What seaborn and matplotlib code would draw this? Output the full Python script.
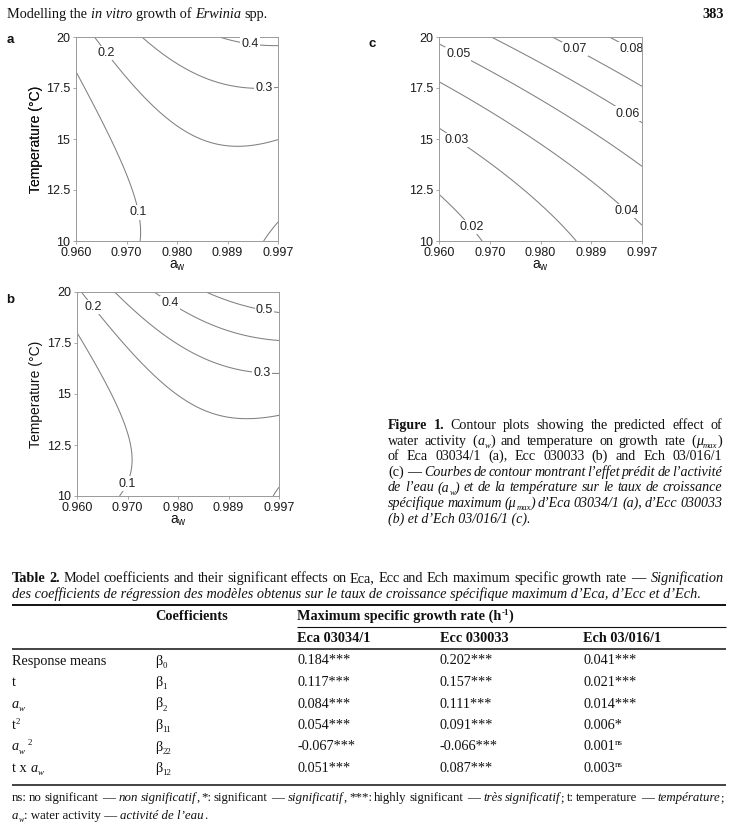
import re
import numpy as np
import pandas as pd
import seaborn as sns
import matplotlib
matplotlib.use("Agg")
import matplotlib.pyplot as plt
from matplotlib.transforms import IdentityTransform
from matplotlib.font_manager import FontProperties
from matplotlib.lines import Line2D

# ---------------- data (Table 2: coded response-surface coefficients) ----------------
# order: b0, b1 (t), b2 (aw), b11 (t^2), b22 (aw^2), b12 (t x aw)
term_labels = ["Response means", "t", "<i>a</i><sub><i>w</i></sub>", "t<sup>2</sup>",
               "<i>a</i><sub><i>w</i></sub><sup> 2</sup>", "t x <i>a</i><sub><i>w</i></sub>"]
coef_labels = ["β<sub>0</sub>", "β<sub>1</sub>", "β<sub>2</sub>",
               "β<sub>11</sub>", "β<sub>22</sub>", "β<sub>12</sub>"]
eca_coef = [0.184, 0.117, 0.084, 0.054, -0.067, 0.051]
ecc_coef = [0.202, 0.157, 0.111, 0.091, -0.066, 0.087]
ech_coef = [0.041, 0.021, 0.014, 0.006, 0.001, 0.003]
eca_sig = ["***", "***", "***", "***", "***", "***"]
ecc_sig = ["***", "***", "***", "***", "***", "***"]
ech_sig = ["***", "***", "***", "*", "ns", "ns"]
strain_labels = ["Eca 03034/1", "Ecc 030033", "Ech 03/016/1"]

aw_coded_ticks = [-1.0, -0.5, 0.0, 0.5, 1.0]
aw_tick_labels = ["0.960", "0.970", "0.980", "0.989", "0.997"]
temp_ticks = [10, 12.5, 15, 17.5, 20]
temp_tick_labels = ["10", "12.5", "15", "17.5", "20"]

levels_a = [0.1, 0.2, 0.3, 0.4]
levels_b = [0.1, 0.2, 0.3, 0.4, 0.5]
levels_c = [0.02, 0.03, 0.04, 0.05, 0.06, 0.07, 0.08]

# ---------------- layout ----------------
W, H, DPI = 731, 831, 100
SERIF = "Liberation Serif"
SANS = "Liberation Sans"
INK = "#111111"
LINE = "#808080"
FRAME = "#9a9a9a"

sns.set_theme(style="white", rc={"axes.edgecolor": FRAME, "axes.linewidth": 0.7})
plt.rcParams["font.family"] = [SANS, "DejaVu Sans"]

fig = plt.figure(figsize=(W / DPI, H / DPI), dpi=DPI, facecolor="white")
rend = fig.canvas.get_renderer()

TAG = re.compile(r"(</?(?:b|i|sub|sup)>)")


def parse(markup):
    st = {"b": False, "i": False, "sub": False, "sup": False}
    out = []
    for tok in TAG.split(markup):
        if not tok:
            continue
        m = re.fullmatch(r"<(/?)(b|i|sub|sup)>", tok)
        if m:
            st[m.group(2)] = (m.group(1) == "")
        else:
            sc = -1 if st["sub"] else (1 if st["sup"] else 0)
            out.append((tok, st["b"], st["i"], sc))
    return out


def fprop(bold, ital, sc, size, family):
    return FontProperties(family=family, weight="bold" if bold else "normal",
                          style="italic" if ital else "normal",
                          size=size * (0.62 if sc else 1.0))


def adv(s, fp):
    """advance width of s in pixels"""
    if not s:
        return 0.0
    return rend.get_text_width_height_descent(s, fp, ismath=False)[0]


def put(x, base, s, fp, sc, size, color):
    px = size * DPI / 72.0
    dy = 0.0
    if sc < 0:
        dy = 0.24 * px
    elif sc > 0:
        dy = -0.36 * px
    fig.text(x, H - (base + dy), s, fontproperties=fp, transform=IdentityTransform(),
             ha="left", va="baseline", color=color)


DASH_PAD = 1.6


def rich(x0, base, markup, size, width=None, family=SERIF, color=INK, ha="left"):
    pieces = [(p, fprop(b, it, sc, size, family), sc) for p, b, it, sc in parse(markup)]
    if width is None:
        total = sum(adv(p, fp) for p, fp, sc in pieces)
        x = x0 - total if ha == "right" else x0
        for p, fp, sc in pieces:
            lead = len(p) - len(p.lstrip(" "))
            core = p.strip(" ")
            if core:
                put(x + adv(" " * lead, fp), base, core, fp, sc, size, color)
            x += adv(p, fp)
        return total
    # justified setting: word by word
    words = [[]]
    for p, fp, sc in pieces:
        parts = p.split(" ")
        for k, q in enumerate(parts):
            if k > 0:
                words.append([])
            if q:
                words[-1].append((q, fp, sc))
    words = [w for w in words if w]

    def word_w(w):
        ww = sum(adv(q, fp) for q, fp, sc in w)
        if len(w) == 1 and w[0][0] == "—":
            ww += 2 * DASH_PAD
        return ww

    wws = [word_w(w) for w in words]
    n = len(words)
    gap = (width - sum(wws)) / max(n - 1, 1)
    x = x0
    for w, ww in zip(words, wws):
        xx = x + (DASH_PAD if (len(w) == 1 and w[0][0] == "—") else 0.0)
        for q, fp, sc in w:
            put(xx, base, q, fp, sc, size, color)
            xx += adv(q, fp)
        x += ww + gap
    return width


def rule(x0, x1, y, lw):
    fig.add_artist(Line2D([x0, x1], [H - y, H - y], transform=IdentityTransform(),
                          color=INK, lw=lw, solid_capstyle="butt"))


def surface(coefs):
    xg = np.linspace(-1, 1, 241)
    Tg = np.linspace(10, 20, 241)
    X, T = np.meshgrid(xg, Tg)
    t = (T - 15.0) / 5.0
    b0, b1, b2, b11, b22, b12 = coefs
    Z = b0 + b1 * t + b2 * X + b11 * t ** 2 + b22 * X ** 2 + b12 * t * X
    return X, T, Z


def panel(rect, coefs, levels, fmt, lab_pos, letter, letter_xy):
    l, t, r, b = rect
    ax = fig.add_axes([l / W, 1 - b / H, (r - l) / W, (b - t) / H])
    ax.set_xlim(-1, 1)
    ax.set_ylim(10, 20)
    X, T, Z = surface(coefs)
    cs = ax.contour(X, T, Z, levels=levels, colors=LINE, linewidths=0.75)
    txts = ax.clabel(cs, levels, fmt=fmt, manual=lab_pos, inline=False,
                     fontsize=9, colors="#222222")
    for tx in txts:
        tx.set_rotation(0)
        tx.set_bbox(dict(facecolor="white", edgecolor="none", pad=0.8))
    ax.set_xticks(aw_coded_ticks)
    ax.set_xticklabels(aw_tick_labels)
    ax.set_yticks(temp_ticks)
    ax.set_yticklabels(temp_tick_labels)
    ax.tick_params(direction="out", length=2.2, width=0.6, color=FRAME, pad=2.2,
                   labelsize=9, labelcolor="#1a1a1a", bottom=True, left=True)
    for s in ax.spines.values():
        s.set_color(FRAME)
        s.set_linewidth(0.7)
    ax.set_xlabel("a$_{\\mathregular{w}}$", fontsize=10, color=INK)
    ax.set_ylabel("Temperature (°C)", fontsize=10, color=INK)
    ax.xaxis.set_label_coords(0.5, -25.0 / (b - t))
    ax.xaxis.label.set_va("center")
    ax.yaxis.set_label_coords((36 - l) / (r - l), 0.5)
    ax.yaxis.label.set_va("center")
    fig.text(letter_xy[0], H - letter_xy[1], letter, transform=IdentityTransform(),
             ha="center", va="center", fontsize=9.5, fontweight="bold", color=INK)
    return ax


label_pos_a = [(-0.70, 19.2), (0.72, 19.45), (0.86, 17.5), (-0.38, 11.4)]
label_pos_b = [(-0.88, 19.1), (-0.08, 19.45), (0.85, 19.0), (0.83, 15.95), (-0.50, 10.6)]
label_pos_c = [(-0.83, 19.0), (0.31, 19.15), (0.86, 19.1), (0.84, 16.1),
               (-0.85, 14.75), (0.85, 11.5), (-0.70, 10.6)]

panel((76, 37, 278, 241), eca_coef, levels_a, "%.1f", label_pos_a, "a", (10, 40))
panel((77, 292, 279, 496), ecc_coef, levels_b, "%.1f", label_pos_b, "b", (10, 300))
panel((439, 37, 642, 241), ech_coef, levels_c, "%.2f", label_pos_c, "c", (372, 44))

# ---------------- running header ----------------
rich(7, 18, "Modelling the <i>in vitro</i> growth of <i>Erwinia</i> spp.", 10.3)
rich(724, 18, "<b>383</b>", 10.3, ha="right")

# ---------------- figure caption ----------------
cap_lines = [
    "<b>Figure 1.</b> Contour plots showing the predicted effect of",
    "water activity (<i>a</i><sub><i>w</i></sub>) and temperature on growth rate (<i>μ</i><sub><i>max</i></sub>)",
    "of Eca 03034/1 (a), Ecc 030033 (b) and Ech 03/016/1",
    "(c) — <i>Courbes de contour montrant l’effet prédit de l’activité</i>",
    "<i>de l’eau (a</i><sub><i>w</i></sub><i>) et de la température sur le taux de croissance</i>",
    "<i>spécifique maximum (μ</i><sub><i>max</i></sub><i>) d’Eca 03034/1 (a), d’Ecc 030033</i>",
    "<i>(b) et d’Ech 03/016/1 (c).</i>",
]
cap_x0, cap_x1 = 388, 722
for k, ln in enumerate(cap_lines):
    rich(cap_x0, 429 + 15.6 * k, ln, 10.1,
         width=(cap_x1 - cap_x0) if k < len(cap_lines) - 1 else None)

# ---------------- table ----------------
TS = 10.3
rich(12, 582, "<b>Table 2.</b> Model coefficients and their significant effects on Eca, Ecc and Ech "
     "maximum specific growth rate — <i>Signification</i>", TS, width=724 - 12)
rich(12, 598, "<i>des coefficients de régression des modèles obtenus sur le taux de croissance "
     "spécifique maximum d’Eca, d’Ecc et d’Ech</i>.", TS)

col_x = [12, 155, 297, 440, 583]
rule(12, 726, 605, 1.4)
rich(col_x[1], 620, "<b>Coefficients</b>", TS)
rich(col_x[2], 620, "<b>Maximum specific growth rate (h<sup>-1</sup>)</b>", TS)
rule(col_x[2], 726, 627, 0.8)
for j, s in enumerate(strain_labels):
    rich(col_x[2 + j], 642, "<b>" + s + "</b>", TS)
rule(12, 726, 649, 1.1)


def cell(v, s):
    return f"{v:.3f}" + (f"<sup>{s}</sup>" if s == "ns" else s)


row_base = [664.5, 686, 707.5, 729, 750.5, 772]
series = [(eca_coef, eca_sig), (ecc_coef, ecc_sig), (ech_coef, ech_sig)]
for i in range(len(term_labels)):
    rich(col_x[0], row_base[i], term_labels[i], TS)
    rich(col_x[1], row_base[i], coef_labels[i], TS)
    for j, (vals, sigs) in enumerate(series):
        rich(col_x[2 + j], row_base[i], cell(vals[i], sigs[i]), TS)
rule(12, 726, 785, 1.1)

rich(12, 801, "ns: no significant — <i>non significatif</i>, *: significant — <i>significatif</i>, "
     "***: highly significant — <i>très significatif</i>; t: temperature — <i>température</i>;",
     9.3, width=724 - 12)
rich(12, 819, "<i>a</i><sub><i>w</i></sub>: water activity — <i>activité de l’eau</i>.", 9.3)

fig.savefig("out.png", dpi=DPI, facecolor="white")
